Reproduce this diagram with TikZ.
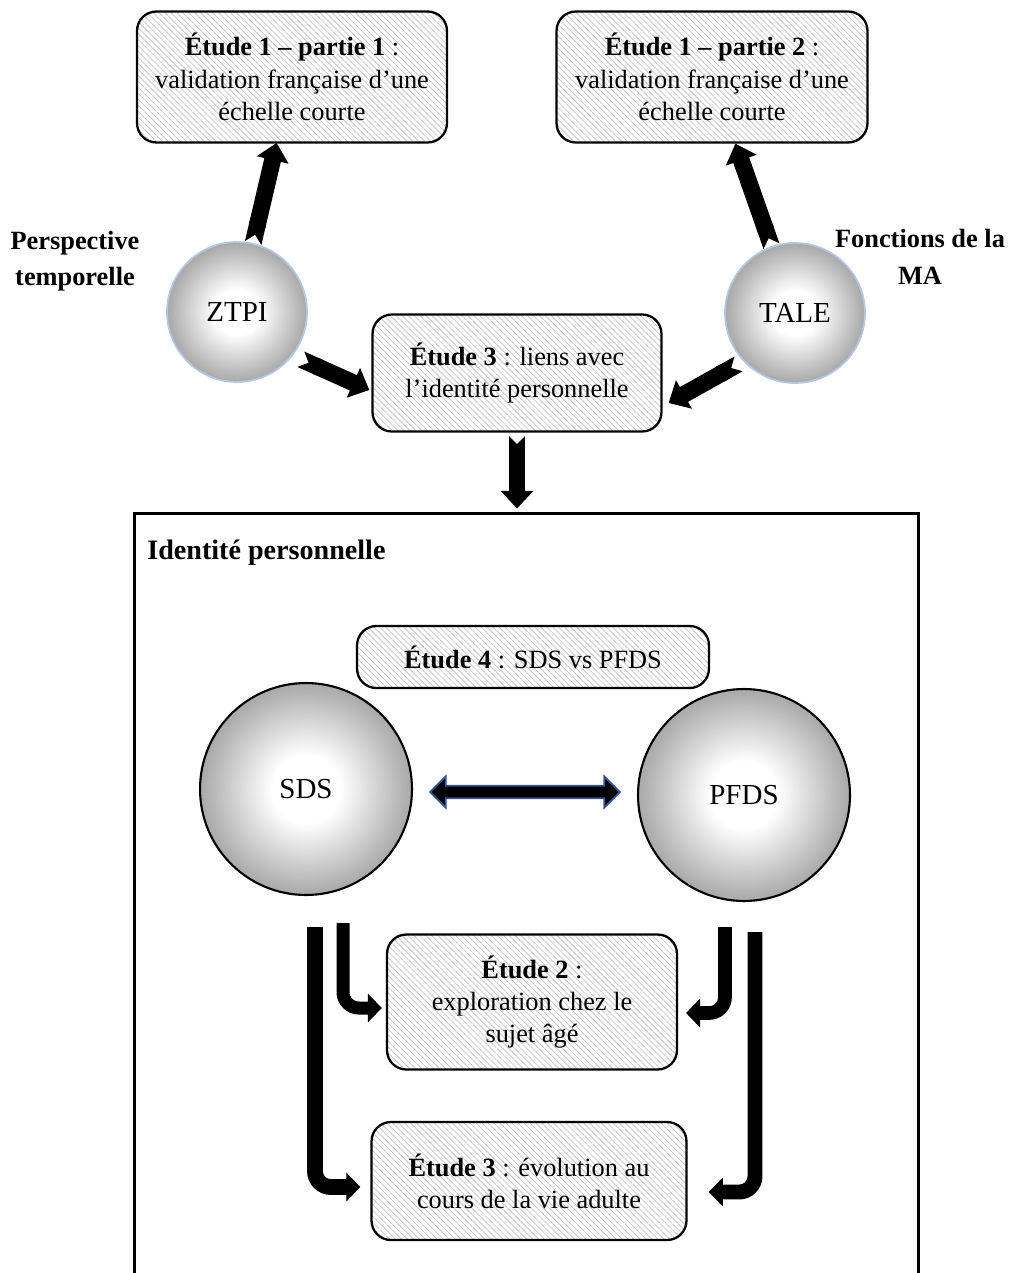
\documentclass[tikz,border=0pt]{standalone}
\usepackage{fontspec}
\setmainfont{Liberation Serif}
\usetikzlibrary{arrows.meta, calc, patterns.meta, shapes.arrows}

\definecolor{orbedge}{RGB}{180,199,231}
\definecolor{arrblue}{RGB}{47,85,151}
\pgfdeclareradialshading{orbfill}{\pgfpoint{0bp}{0bp}}{color(0bp)=(white); color(8bp)=(white); color(25bp)=(black!34); color(50bp)=(black!34)}

\tikzset{
  etude/.style={draw, line width=1.3pt, rounded corners=11pt, align=center,
    pattern={Lines[angle=-45,distance=2.4pt,line width=0.45pt]}, pattern color=black!22,
    font=\fontsize{15}{18.4}\selectfont, inner sep=2pt},
  orb/.style={circle, shading=orbfill, font=\fontsize{16.5}{20}\selectfont, inner sep=0pt},
  sidelabel/.style={font=\fontsize{15}{20.7}\selectfont\bfseries, align=center},
  bigarr/.style={line width=9.6pt, {Triangle Cap[reversed]}-{Triangle[length=10pt,width=18pt]}},
  bentarr/.style={line width=#1, rounded corners=9pt, -{Triangle[length=8pt,width=16pt]}},
  dblarr/.style={double arrow, fill=black, draw=arrblue, line width=1pt, minimum height=3.8cm,
    inner sep=3pt, double arrow head extend=5.4pt}
}

\begin{document}
\begin{tikzpicture}[x=0.02cm, y=-0.02cm]
\useasboundingbox (0,0) rectangle (1008,1273);

% top row
\node[etude, minimum width=6.2cm, minimum height=2.62cm] (e1a) at (292,77) {\textbf{Étude 1 – partie 1} :\\validation française d’une\\échelle courte};
\node[etude, minimum width=6.22cm, minimum height=2.62cm] (e1b) at (712,77) {\textbf{Étude 1 – partie 2} :\\validation française d’une\\échelle courte};

\node[sidelabel] (persp) at (75,261) {Perspective\\temporelle};
\node[sidelabel] (fonct) at (920,257) {Fonctions de la\\MA};

\node[orb, draw=orbedge, line width=1pt, minimum size=2.8cm] (ztpi) at (237,312) {ZTPI};
\node[orb, draw=orbedge, line width=1pt, minimum size=2.8cm] (tale) at (795,313) {TALE};

\node[etude, minimum width=5.78cm, minimum height=2.34cm] (e3a) at (517,373) {\textbf{Étude 3} : liens avec\\l’identité personnelle};

\draw[bigarr] (ztpi) -- (e1a);
\draw[bigarr] (tale) -- (e1b);
\draw[bigarr, shorten <=5pt] (ztpi.-38) -- ($(e3a.west)+(-2,17)$);
\draw[bigarr, shorten <=3pt] (tale.-137) -- ($(e3a.east)+(6,30)$);

% frame
\node[draw, line width=1.7pt, minimum width=15.68cm, minimum height=15.6cm, anchor=north west] (ident) at (133,512) {};
\node[font=\fontsize{16}{19}\selectfont\bfseries, anchor=west, inner sep=0pt] (identlbl) at (147,553) {Identité personnelle};

\draw[bigarr, line width=9pt, shorten <=2pt, shorten >=2pt] (e3a.south) -- (e3a.south |- ident.north);

% inside
\node[etude, minimum width=7.04cm, minimum height=1.24cm] (e4) at (533,657) {\textbf{Étude 4} : SDS vs PFDS};

\node[orb, draw, line width=1.2pt, minimum size=4.24cm] (sds) at (306,789) {SDS};
\node[orb, draw, line width=1.2pt, minimum size=4.24cm] (pfds) at (744,795) {PFDS};
\path (sds) -- node[dblarr] (link) {} (pfds);

\node[etude, minimum width=5.8cm, minimum height=2.7cm] (e2) at (532,1002) {\textbf{Étude 2} :\\exploration chez le\\sujet âgé};
\node[etude, minimum width=6.3cm, minimum height=2.36cm] (e3b) at (529,1181) {\textbf{Étude 3} : évolution au\\cours de la vie adulte};

\coordinate (sl1) at (315,927);
\coordinate (sl2) at (343,923);
\coordinate (sr2) at (725,927);
\coordinate (sr1) at (755,932);

\draw[bentarr=9pt, shorten >=5.7pt] (sl1) |- ($(e3b.west)+(0,6)$);
\draw[bentarr=7.4pt, shorten >=2.3pt] (sl2) |- ($(e2.west)+(0,6)$);
\draw[bentarr=7.8pt, shorten >=4.5pt] (sr2) |- ($(e2.east)+(0,11)$);
\draw[bentarr=8.5pt, shorten >=12pt] (sr1) |- ($(e3b.east)+(0,11)$);
\end{tikzpicture}
\end{document}
